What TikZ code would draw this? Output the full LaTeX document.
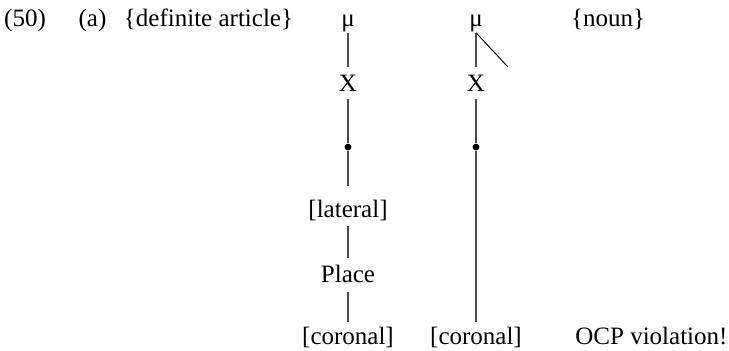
\documentclass[tikz,border=0pt]{standalone}
\usepackage{fontspec}
\setmainfont{Liberation Serif}
\begin{document}
\begin{tikzpicture}[x=0.5pt,y=-0.5pt,
	every node/.style={inner sep=0pt,font=\fontsize{12.5}{15}\selectfont},
	seg/.style={black!70,line width=0.65pt},
	rootdot/.style={circle,fill=black,minimum size=3.4pt}]
	\useasboundingbox (0,0) rectangle (729,351);
	\node[anchor=base] (exnum) at (25,27) {(50)};
	\node[anchor=base] (exlab) at (92.5,27) {(a)};
	\node[anchor=base] (art) at (208.5,27) {\{definite article\}};
	\node[anchor=base] (noun) at (608,27) {\{noun\}};
	\foreach \c/\x in {1/348,2/476} {
		\node[anchor=base] (mu\c) at (\x,27) {μ};
		\node[anchor=base] (x\c) at (\x,92) {X};
		\node[rootdot] (d\c) at (\x,147) {};
		\node[anchor=base] (cor\c) at (\x,345) {[coronal]};
		\draw[seg,shorten >=4pt] (mu\c) -- (x\c);
		\draw[seg,shorten <=3.5pt] (x\c) -- (d\c);
	}
	\node[anchor=base] (lat) at (348,218) {[lateral]};
	\node[anchor=base] (place) at (348,283) {Place};
	\node[anchor=base west] (ocp) at (575,345) {OCP violation!};
	\coordinate (tail) at (508,67);
	\draw[seg,shorten >=7pt] (d1) -- (lat);
	\draw[seg,shorten <=2pt,shorten >=3.5pt] (lat) -- (place);
	\draw[seg,shorten <=4pt,shorten >=2.5pt] (place) -- (cor1);
	\draw[seg,shorten >=2.5pt] (d2) -- (cor2);
	\draw[black,line width=0.5pt] (mu2.south) -- (tail);
\end{tikzpicture}
\end{document}
